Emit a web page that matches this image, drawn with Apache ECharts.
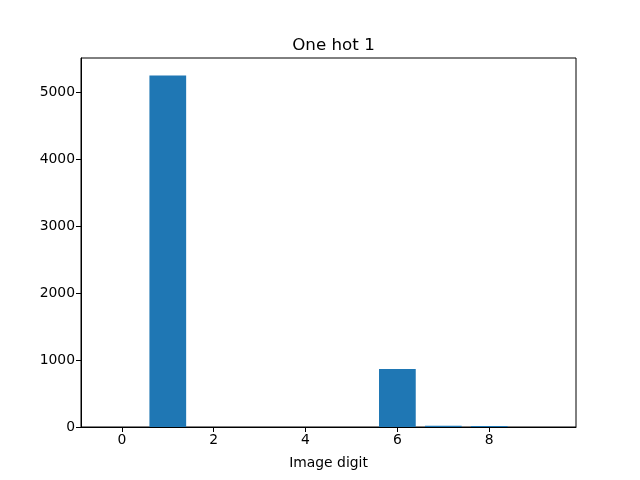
<!DOCTYPE html>
<html><head><meta charset="utf-8">
<script src="https://cdn.jsdelivr.net/npm/echarts@6/dist/echarts.min.js"></script>
<style>html,body{margin:0;padding:0;background:#fff}#c{width:640px;height:480px}</style>
</head><body><div id="c"></div>
<script>
const digits = [0,1,2,3,4,5,6,7,8,9];
const counts = [0,5245,0,0,0,0,866,20,15,0];
const xTicks = [0,2,4,6,8];
const yTicks = [0,1000,2000,3000,4000,5000];
const title = 'One hot 1';
const xLabel = 'Image digit';

const xMin = -0.89, xMax = 9.89, yMax = 5507;
const gridL = 81, gridR = 64, gridT = 58, gridB = 53;
const plotW = 640 - gridL - gridR;
const barW = 0.8 * plotW / (xMax - xMin);
const font = 'DejaVu Sans';

const chart = echarts.init(document.getElementById('c'), null, {renderer:'canvas'});
chart.setOption({
  animation: false,
  backgroundColor: '#fff',
  title: {text: title, left: (gridL + 640 - gridR)/2, top: 32, textAlign: 'center',
    textStyle: {fontFamily: font, fontSize: 16.7, fontWeight: 'normal', color: '#000'}},
  grid: {left: gridL, right: gridR, top: gridT, bottom: gridB, show: true, borderColor: '#000', borderWidth: 1, backgroundColor: 'transparent'},
  xAxis: {type: 'value', min: xMin, max: xMax,
    name: xLabel, nameLocation: 'middle', nameGap: 29,
    nameTextStyle: {fontFamily: font, fontSize: 13.9, color: '#000'},
    axisLine: {show: true, onZero: false, lineStyle: {color: '#000', width: 1}},
    axisTick: {show: true, length: 5, customValues: xTicks, lineStyle: {color: '#000'}},
    axisLabel: {customValues: xTicks, fontFamily: font, fontSize: 13.9, color: '#000', margin: 6, formatter: v => String(v)},
    splitLine: {show: false}},
  yAxis: {type: 'value', min: 0, max: yMax,
    axisLine: {show: true, onZero: false, lineStyle: {color: '#000', width: 1}},
    axisTick: {show: true, length: 5, customValues: yTicks, lineStyle: {color: '#000'}},
    axisLabel: {customValues: yTicks, fontFamily: font, fontSize: 13.9, color: '#000', margin: 6, formatter: v => String(v)},
    splitLine: {show: false}},
  series: [{type: 'bar', barWidth: barW,
    data: digits.map((d,i) => [d, counts[i]]),
    itemStyle: {color: '#1f77b4'}}]
});
</script></body></html>
